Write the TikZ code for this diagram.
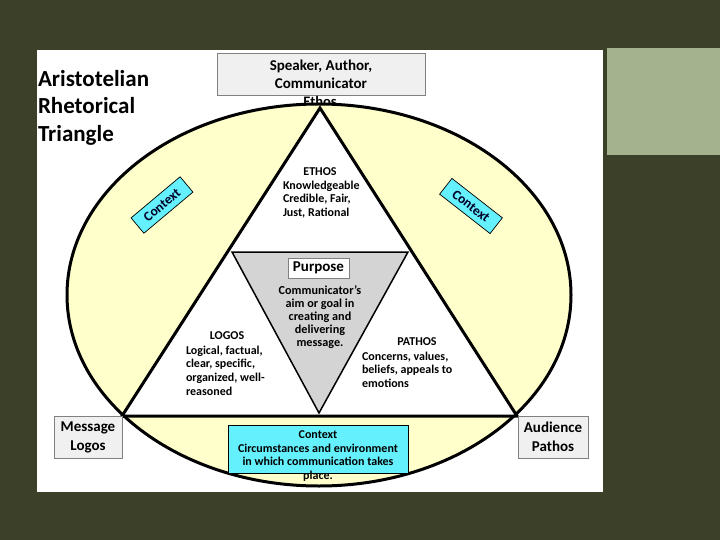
\documentclass[tikz,border=0pt]{standalone}
\usepackage{fontspec}
\setmainfont{Carlito}
\definecolor{bgolive}{RGB}{60,64,40}
\definecolor{sage}{RGB}{164,178,142}
\definecolor{ellfill}{RGB}{255,255,204}
\definecolor{boxgray}{RGB}{240,240,240}
\definecolor{boxline}{RGB}{128,128,128}
\definecolor{inngray}{RGB}{212,212,212}
\definecolor{ctxcyan}{RGB}{100,240,252}
\begin{document}
\begin{tikzpicture}[x=1pt,y=-1pt,
  every node/.style={inner sep=0pt,outer sep=0pt},
  txt/.style={font=\bfseries\fontsize{12}{13.6}\selectfont},
  graybox/.style={draw=boxline,fill=boxgray,line width=0.8pt},
  ctxbox/.style={draw=black,fill=ctxcyan,line width=0.7pt,
    font=\bfseries\fontsize{13.5}{13.5}\selectfont,text=black!85!blue,
    minimum width=64pt,minimum height=20pt}]
\useasboundingbox (0,0) rectangle (720,540);
% background
\fill[bgolive] (0,0) rectangle (720,540);
\fill[white] (37,50) rectangle (603,492);
\fill[sage] (607,48) rectangle (720,155);
% title
\node[anchor=west,align=left,font=\bfseries\fontsize{23}{27.5}\selectfont] (title) at (38,107.5)
  {Aristotelian\\Rhetorical\\Triangle};
% speaker box
\node[graybox,minimum width=208pt,minimum height=42pt,align=center,
  font=\bfseries\fontsize{15}{18}\selectfont] (speaker) at (321,74)
  {Speaker, Author,\\Communicator};
\node[font=\bfseries\fontsize{14.5}{14.5}\selectfont] (ethoslbl) at (320,101.5) {Ethos};
% ellipse
\draw[line width=3pt,fill=ellfill] (319,295) ellipse [x radius=252,y radius=191];
% triangle
\coordinate (A) at (320,108);
\coordinate (B) at (122,416);
\coordinate (C) at (517,416);
\draw[line width=3pt,fill=white,line join=miter] (A) -- (B) -- (C) -- cycle;
% inner triangle
\coordinate (P) at (232,252);
\coordinate (Q) at (408,252);
\coordinate (R) at (319,413);
\draw[line width=1.5pt,fill=inngray] (P) -- (Q) -- (R) -- cycle;
% ethos text
\node[txt] (ethos) at (320,172) {ETHOS};
\node[txt,anchor=west,align=left] (ethostxt) at (283,199.5)
  {Knowledgeable\\Credible, Fair,\\Just, Rational};
% purpose
\node[draw=boxline,fill=white,line width=0.8pt,minimum width=61pt,minimum height=20pt,
  font=\bfseries\fontsize{15}{15}\selectfont] (purpose) at (318.5,268) {Purpose};
\node[align=center,font=\bfseries\fontsize{12.2}{12.9}\selectfont] (purposetxt) at (320,317)
  {Communicator’s\\aim or goal in\\creating and\\delivering\\message.};
% logos
\node[txt] (logos) at (227,336) {LOGOS};
\node[txt,anchor=west,align=left] (logostxt) at (186,370.5)
  {Logical, factual,\\clear, specific,\\organized, well-\\reasoned};
% pathos
\node[txt] (pathos) at (417,342) {PATHOS};
\node[txt,anchor=west,align=left] (pathostxt) at (362,369.5)
  {Concerns, values,\\beliefs, appeals to\\emotions};
% context tags
\node[ctxbox,rotate=40] (ctxleft) at (162,205) {Context};
\node[ctxbox,rotate=-38] (ctxright) at (471,206) {Context};
% corner boxes
\node[graybox,minimum width=68pt,minimum height=42pt,align=center,
  font=\bfseries\fontsize{15}{19}\selectfont] (message) at (88,437) {Message\\Logos};
\node[graybox,minimum width=70pt,minimum height=42pt,align=center,
  font=\bfseries\fontsize{15}{19}\selectfont] (audience) at (553,437) {Audience\\Pathos};
% bottom context
\node[draw=black,fill=ctxcyan,line width=0.8pt,minimum width=180pt,minimum height=48pt] (ctxbot) at (318,449) {};
\node[align=center,font=\bfseries\fontsize{12}{13.5}\selectfont] (ctxbottxt) at (318,456)
  {Context\\Circumstances and environment\\in which communication takes\\place.};
\end{tikzpicture}
\end{document}
